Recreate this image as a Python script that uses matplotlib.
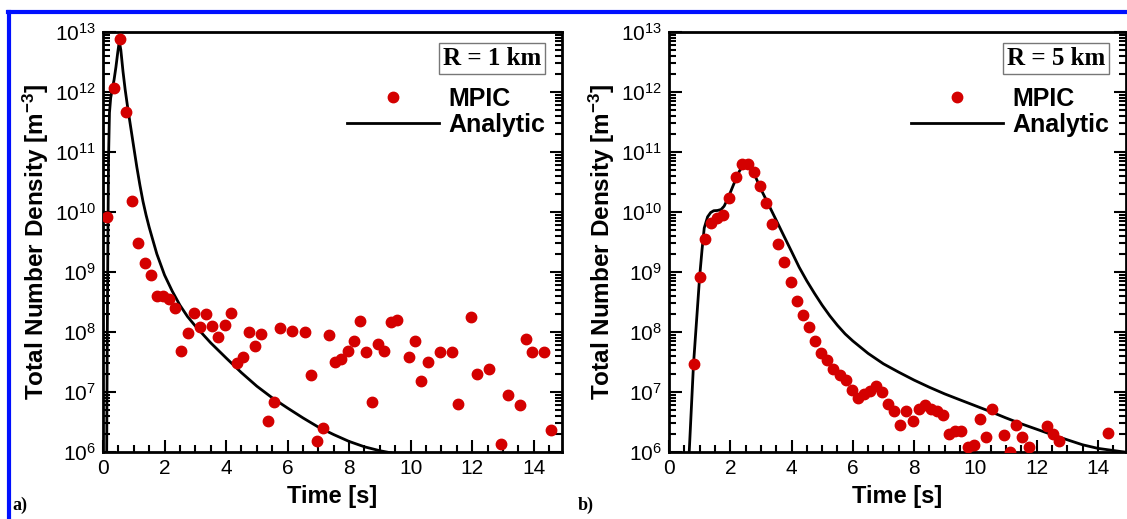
import numpy as np
import matplotlib
matplotlib.use("Agg")
import matplotlib.pyplot as plt
from matplotlib.ticker import FixedLocator, NullFormatter, LogFormatterSciNotation
from matplotlib.lines import Line2D

plt.rcParams['font.family'] = ['Liberation Sans', 'DejaVu Sans']
plt.rcParams['mathtext.fontset'] = 'custom'
plt.rcParams['mathtext.rm'] = 'Liberation Sans'
plt.rcParams['mathtext.bf'] = 'Liberation Sans:bold'
plt.rcParams['mathtext.default'] = 'regular'

# ---- panel a) R = 1 km ----
t_mpic_1 = [0.13, 0.35, 0.55, 0.75, 0.95, 1.15, 1.35, 1.55, 1.75, 1.95, 2.15, 2.35,
            2.55, 2.75, 2.95, 3.15, 3.35, 3.55, 3.75, 3.95, 4.15, 4.35, 4.55, 4.75,
            4.95, 5.15, 5.35, 5.55, 5.75, 6.15, 6.55, 6.75, 6.95, 7.15, 7.35, 7.55,
            7.75, 7.95, 8.15, 8.35, 8.55, 8.75, 8.95, 9.15, 9.35, 9.55, 9.95, 10.15,
            10.35, 10.55, 10.95, 11.35, 11.55, 11.95, 12.15, 12.55, 12.95, 13.15,
            13.55, 13.75, 13.95, 14.35, 14.55]
n_mpic_1 = [8.3e9, 1.15e12, 7.6e12, 4.6e11, 1.5e10, 3.1e9, 1.4e9, 8.8e8, 4.0e8, 4.0e8,
            3.6e8, 2.5e8, 4.9e7, 9.7e7, 2.1e8, 1.2e8, 2.0e8, 1.27e8, 8.3e7, 1.3e8,
            2.05e8, 3.0e7, 3.9e7, 1.0e8, 5.8e7, 9.3e7, 3.3e6, 6.8e6, 1.15e8, 1.03e8,
            1.0e8, 1.9e7, 1.5e6, 2.5e6, 8.9e7, 3.2e7, 3.6e7, 4.8e7, 7.2e7, 1.5e8,
            4.6e7, 6.9e6, 6.4e7, 4.8e7, 1.47e8, 1.6e8, 3.9e7, 7.1e7, 1.55e7, 3.2e7,
            4.6e7, 4.6e7, 6.4e6, 1.8e8, 2.0e7, 2.4e7, 1.35e6, 9.0e6, 6.0e6, 7.7e7,
            4.6e7, 4.6e7, 2.3e6]

t_ana_1 = [0.12, 0.14, 0.16, 0.18, 0.21, 0.25, 0.30, 0.36, 0.42, 0.48, 0.53, 0.58,
           0.65, 0.72, 0.80, 0.90, 1.00, 1.10, 1.20, 1.30, 1.40, 1.50, 1.60, 1.75,
           2.00, 2.25, 2.50, 2.75, 3.00, 3.50, 4.00, 4.50, 5.00, 5.50, 6.00, 6.50,
           7.00, 7.50, 8.00, 8.50, 9.00, 9.35]
n_ana_1 = [1e6, 1e8, 4e9, 8e10, 4.5e11, 8e11, 1.1e12, 1.6e12, 2.6e12, 4.6e12, 7.0e12,
           5.0e12, 2.2e12, 1.1e12, 5.6e11, 2.6e11, 1.2e11, 5.6e10, 2.8e10, 1.5e10,
           8.9e9, 5.6e9, 3.7e9, 2.0e9, 8.9e8, 4.8e8, 2.8e8, 1.8e8, 1.26e8, 6.6e7,
           3.7e7, 2.1e7, 1.25e7, 8.0e6, 5.4e6, 3.7e6, 2.6e6, 1.95e6, 1.5e6,
           1.22e6, 1.05e6, 0.97e6]

# ---- panel b) R = 5 km ----
t_mpic_5 = [0.80, 1.00, 1.18, 1.37, 1.57, 1.77, 1.97, 2.18, 2.38, 2.57, 2.77, 2.96,
            3.16, 3.36, 3.56, 3.76, 3.97, 4.17, 4.37, 4.57, 4.77, 4.97, 5.17, 5.37,
            5.57, 5.77, 5.97, 6.16, 6.36, 6.56, 6.76, 6.95, 7.15, 7.35, 7.55, 7.75,
            7.95, 8.15, 8.35, 8.55, 8.75, 8.95, 9.14, 9.34, 9.54, 9.75, 9.95, 10.14,
            10.34, 10.54, 10.95, 11.13, 11.33, 11.53, 11.74, 12.33, 12.53, 12.74,
            14.32]
n_mpic_5 = [2.9e7, 8.3e8, 3.5e9, 6.6e9, 7.8e9, 8.8e9, 1.7e10, 3.9e10, 6.2e10, 6.2e10,
            4.7e10, 2.7e10, 1.4e10, 6.2e9, 2.9e9, 1.45e9, 6.8e8, 3.3e8, 1.9e8, 1.2e8,
            7.1e7, 4.5e7, 3.4e7, 2.4e7, 1.9e7, 1.6e7, 1.1e7, 8.0e6, 9.1e6, 1.05e7,
            1.28e7, 1.0e7, 6.4e6, 4.8e6, 2.8e6, 4.8e6, 3.3e6, 5.3e6, 6.1e6, 5.3e6,
            4.8e6, 4.2e6, 2.0e6, 2.2e6, 2.2e6, 1.2e6, 1.3e6, 3.6e6, 1.8e6, 5.3e6,
            1.9e6, 1.0e6, 2.8e6, 1.8e6, 1.2e6, 2.7e6, 2.0e6, 1.5e6, 2.1e6]

t_ana_5 = [0.66, 0.80, 1.00, 1.08, 1.15, 1.26, 1.36, 1.46, 1.58, 1.70, 1.80, 1.90,
           2.00, 2.10, 2.20, 2.30, 2.40, 2.48, 2.58, 2.70, 2.85, 3.00, 3.20, 3.50,
           3.75, 4.00, 4.25, 4.50, 4.75, 5.00, 5.25, 5.50, 5.75, 6.00, 6.50, 7.00,
           7.50, 8.00, 8.50, 9.00, 9.50, 10.00, 10.50, 11.00, 11.50, 12.00, 12.50,
           13.00, 13.50, 14.00, 14.50, 14.92]
n_ana_5 = [1e6, 2.9e7, 8.3e8, 2.4e9, 5.4e9, 8.3e9, 9.8e9, 1.05e10, 1.06e10, 1.1e10,
           1.25e10, 1.6e10, 2.1e10, 2.8e10, 3.7e10, 4.8e10, 5.8e10, 6.3e10, 6.1e10,
           5.2e10, 3.6e10, 2.4e10, 1.5e10, 7.3e9, 4.0e9, 2.2e9, 1.2e9, 7.1e8, 4.4e8,
           2.8e8, 1.86e8, 1.29e8, 9.3e7, 7.1e7, 4.4e7, 2.95e7, 2.14e7, 1.58e7,
           1.2e7, 9.3e6, 7.4e6, 5.9e6, 4.7e6, 3.7e6, 2.95e6, 2.4e6, 1.95e6, 1.6e6,
           1.32e6, 1.15e6, 1.06e6, 0.99e6]

panels = [
    (t_mpic_1, n_mpic_1, t_ana_1, n_ana_1, 'R = 1 km', 'a)'),
    (t_mpic_5, n_mpic_5, t_ana_5, n_ana_5, 'R = 5 km', 'b)'),
]

red = '#d40000'
W, H = 1127, 519
fig = plt.figure(figsize=(W / 100, H / 100), dpi=100)

axes_px = [(103, 32, 562, 452), (669, 32, 1126, 452)]
major_y = [10.0 ** k for k in range(6, 14)]
minor_y = [m * 10.0 ** k for k in range(6, 13) for m in range(2, 10)]

for (tm, nm, ta, na, rtxt, tag), (x0, y0, x1, y1) in zip(panels, axes_px):
    ax = fig.add_axes([x0 / W, 1 - y1 / H, (x1 - x0) / W, (y1 - y0) / H])
    ax.plot(ta, na, color='black', lw=2, label='Analytic', zorder=2)
    ax.plot(tm, nm, 'o', color=red, ms=7.5, mec=red, label='MPIC', zorder=3)
    ax.set_yscale('log')
    ax.set_xlim(0, 14.92)
    ax.set_ylim(1e6, 1e13)
    ax.xaxis.set_major_locator(FixedLocator(list(range(0, 15, 2))))
    ax.xaxis.set_minor_locator(FixedLocator([i * 0.5 for i in range(0, 30)]))
    ax.yaxis.set_major_locator(FixedLocator(major_y))
    ax.yaxis.set_major_formatter(LogFormatterSciNotation())
    ax.yaxis.set_minor_locator(FixedLocator(minor_y))
    ax.yaxis.set_minor_formatter(NullFormatter())
    ax.tick_params(which='both', direction='in', right=True, top=False, labelsize=15,
                   width=1.5, colors='black')
    ax.tick_params(which='major', length=9, pad=5)
    ax.tick_params(which='minor', length=5)
    for s in ax.spines.values():
        s.set_linewidth(2)
    ax.set_xlabel('Time [s]', fontsize=17, fontweight='bold', labelpad=5)
    ax.set_ylabel(r'Total Number Density [m$^{\mathbf{-3}}$]', fontsize=17.5,
                  fontweight='bold', labelpad=3)

    h, l = ax.get_legend_handles_labels()
    ax.legend([h[1], h[0]], [l[1], l[0]], loc='upper right',
              bbox_to_anchor=(0.963, 0.87), frameon=False, numpoints=1,
              handlelength=3.7, handletextpad=0.35, labelspacing=0.1,
              borderaxespad=0, borderpad=0,
              prop={'weight': 'bold', 'size': 18})

    ax.text(0.955, 0.937, rtxt, transform=ax.transAxes, ha='right', va='center',
            family='Liberation Serif', fontweight='bold', fontsize=18,
            bbox=dict(boxstyle='square,pad=0.15', fc='white', ec='#777777', lw=1))

    fig.text((x0 - 91) / W, 1 - 505 / H, tag, family='Liberation Serif',
             fontweight='bold', fontsize=13, ha='left', va='center')

# blue frame
fig.add_artist(Line2D([8 / W, 1], [1 - 12 / H, 1 - 12 / H], color='#0010ff', lw=3))
fig.add_artist(Line2D([9 / W, 9 / W], [0, 1 - 12 / H], color='#0010ff', lw=3))

fig.savefig('out.png', dpi=100)
